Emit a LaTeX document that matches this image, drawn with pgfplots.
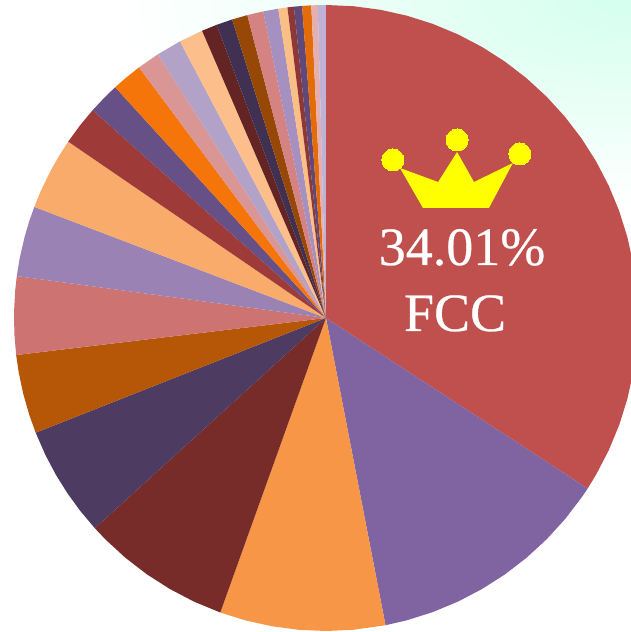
\documentclass[border=0pt]{standalone}
\usepackage{pgfplots}
\pgfplotsset{compat=1.18}
\usepackage{fontspec}
\setmainfont{Liberation Serif}
\newfontfamily\heavy[FakeBold=0.5]{Liberation Serif}
\definecolor{mint}{RGB}{212,255,238}
\definecolor{crown}{RGB}{255,255,0}
\pgfdeclareradialshading{bgfade}{\pgfpointorigin}{color(0bp)=(mint); color(25bp)=(white); color(50bp)=(white)}
\definecolor{ca}{RGB}{192,80,77}
\definecolor{cb}{RGB}{128,100,162}
\definecolor{cc}{RGB}{247,150,70}
\definecolor{cd}{RGB}{119,44,42}
\definecolor{ce}{RGB}{77,59,98}
\definecolor{cf}{RGB}{182,87,7}
\definecolor{cg}{RGB}{205,115,113}
\definecolor{ch}{RGB}{155,130,180}
\definecolor{ci}{RGB}{249,171,107}
\definecolor{cj}{RGB}{158,58,56}
\definecolor{ck}{RGB}{103,80,133}
\definecolor{cl}{RGB}{245,117,10}
\definecolor{cm}{RGB}{217,150,148}
\definecolor{cn}{RGB}{179,162,199}
\definecolor{co}{RGB}{252,191,140}
\definecolor{cp}{RGB}{99,36,35}
\definecolor{cq}{RGB}{64,49,82}
\definecolor{cr}{RGB}{151,72,6}
\definecolor{cs}{RGB}{212,130,130}
\definecolor{ct}{RGB}{165,144,192}
\definecolor{cu}{RGB}{250,191,135}
\definecolor{cv}{RGB}{143,55,53}
\definecolor{cw}{RGB}{95,73,122}
\definecolor{cx}{RGB}{227,108,9}
\definecolor{cy}{RGB}{230,175,175}
\definecolor{cz}{RGB}{190,178,215}
\pgfplotsset{wedge/.style={fill=#1,draw=none,mark=none,data cs=polar}}
\begin{document}
\begin{tikzpicture}
\useasboundingbox (0,0) rectangle (631pt,632pt);
\begin{scope}
\clip (0,0) rectangle (631pt,632pt);
\shade[shading=bgfade] (631pt,632pt) ellipse [x radius=511pt,y radius=210pt];
\end{scope}
\begin{axis}[at={(0,0)},anchor=south west,scale only axis,width=631pt,height=632pt,
  xmin=-327,xmax=306,ymin=-314,ymax=318,hide axis,clip=true]
\addplot[wedge=ca] coordinates {(0,0) (90,313) (85,313) (80,313) (75,313) (70,313) (65,313) (60,313) (55,313) (50,313) (45,313) (40,313) (35,313) (30,313) (25,313) (20,313) (15,313) (10,313) (5,313) (0,313) (-5,313) (-10,313) (-15,313) (-20,313) (-25,313) (-30,313) (-33,313) (0,0)};
\addplot[wedge=cb] coordinates {(0,0) (-33,313) (-35,313) (-40,313) (-45,313) (-50,313) (-55,313) (-60,313) (-65,313) (-70,313) (-75,313) (-79,313) (0,0)};
\addplot[wedge=cc] coordinates {(0,0) (-79,313) (-85,313) (-90,313) (-95,313) (-100,313) (-105,313) (-109.8,313) (0,0)};
\addplot[wedge=cd] coordinates {(0,0) (-109.8,313) (-115,313) (-120,313) (-125,313) (-130,313) (-135,313) (-137.8,313) (0,0)};
\addplot[wedge=ce] coordinates {(0,0) (-137.8,313) (-142,313) (-146,313) (-150,313) (-154,313) (-158.5,313) (0,0)};
\addplot[wedge=cf] coordinates {(0,0) (-158.5,313) (-162,313) (-166,313) (-170,313) (-173.2,313) (0,0)};
\addplot[wedge=cg] coordinates {(0,0) (-173.2,313) (-177,313) (-181,313) (-185,313) (-187.7,313) (0,0)};
\addplot[wedge=ch] coordinates {(0,0) (-187.7,313) (-191,313) (-195,313) (-198,313) (-200.8,313) (0,0)};
\addplot[wedge=ci] coordinates {(0,0) (-200.8,313) (-204,313) (-208,313) (-211,313) (-214.3,313) (0,0)};
\addplot[wedge=cj] coordinates {(0,0) (-214.3,313) (-218,313) (-221.6,313) (0,0)};
\addplot[wedge=ck] coordinates {(0,0) (-221.6,313) (-225,313) (-227.5,313) (0,0)};
\addplot[wedge=cl] coordinates {(0,0) (-227.5,313) (-230,313) (-233.2,313) (0,0)};
\addplot[wedge=cm] coordinates {(0,0) (-233.2,313) (-237.4,313) (0,0)};
\addplot[wedge=cn] coordinates {(0,0) (-237.4,313) (-242.1,313) (0,0)};
\addplot[wedge=co] coordinates {(0,0) (-242.1,313) (-246.6,313) (0,0)};
\addplot[wedge=cp] coordinates {(0,0) (-246.6,313) (-249.5,313) (0,0)};
\addplot[wedge=cq] coordinates {(0,0) (-249.5,313) (-252.5,313) (0,0)};
\addplot[wedge=cr] coordinates {(0,0) (-252.5,313) (-255.4,313) (0,0)};
\addplot[wedge=cs] coordinates {(0,0) (-255.4,313) (-258.4,313) (0,0)};
\addplot[wedge=ct] coordinates {(0,0) (-258.4,313) (-261.2,313) (0,0)};
\addplot[wedge=cu] coordinates {(0,0) (-261.2,313) (-262.9,313) (0,0)};
\addplot[wedge=cv] coordinates {(0,0) (-262.9,313) (-264.1,313) (0,0)};
\addplot[wedge=cw] coordinates {(0,0) (-264.1,313) (-265.6,313) (0,0)};
\addplot[wedge=cx] coordinates {(0,0) (-265.6,313) (-267.3,313) (0,0)};
\addplot[wedge=cy] coordinates {(0,0) (-267.3,313) (-268.5,313) (0,0)};
\addplot[wedge=cz] coordinates {(0,0) (-268.5,313) (-270,313) (0,0)};
% crown
\addplot[fill=crown,draw=none,mark=none] coordinates {(97.3,110) (163.5,110) (187.5,155) (148.5,136) (131.5,166) (112.5,136) (74.2,150) (97.3,110)};
\addplot[only marks,draw=crown,mark=*,mark size=11pt,mark options={fill=crown,draw=crown,line width=0pt}] coordinates {(67.2,158) (131.5,178) (194.5,164)};
\node[text=white,font=\heavy\fontsize{54}{60}\selectfont,anchor=base] at (axis cs:136.5,53) {34.01\%};
\node[text=white,font=\heavy\fontsize{54}{60}\selectfont,anchor=base] at (axis cs:129.5,-13) {FCC};
\end{axis}
\end{tikzpicture}
\end{document}
